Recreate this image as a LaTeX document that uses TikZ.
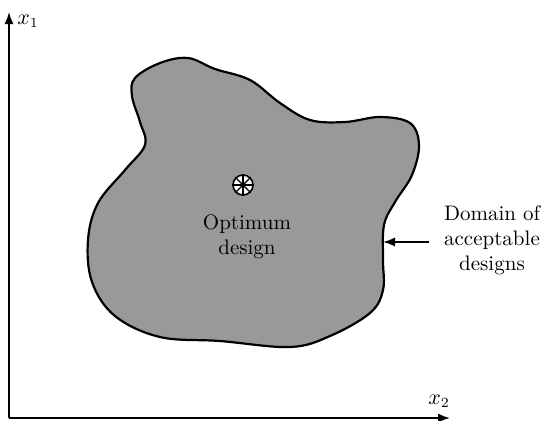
\documentclass[tikz,border=0pt]{standalone}
\usepackage{tikz}
\usetikzlibrary{arrows.meta}

\begin{document}
\begin{tikzpicture}[x=0.5pt, y=-0.5pt, every node/.style={font=\fontsize{10.5}{12.5}\selectfont, inner sep=0pt}, >={Latex[length=6pt, width=4.5pt]}]
	\useasboundingbox (0,0) rectangle (542,420);
	% domain
	\draw[line width=1.1pt, fill=black!40] plot[smooth cycle, tension=0.6] coordinates {
		(135,78) (160,63) (188,58) (215,69) (250,80) (280,103) (310,120) (345,122) (380,117) (410,123) (419,145) (412,175) (395,202) (384,225) (383,260) (383,290) (370,313) (330,336) (290,347) (220,341) (160,337) (115,316) (92,282) (88,240) (98,203) (125,170) (145,145) (140,122) (132,96)};
	% axes
	\coordinate (O) at (9,418);
	\coordinate (Y) at (9,12);
	\coordinate (X) at (450,418);
	\draw[->, line width=0.8pt] (O) -- (Y);
	\draw[->, line width=0.8pt] (O) -- (X);
	\node (x1) at (28,21) {$x_1$};
	\node (x2) at (439,401) {$x_2$};
	% optimum
	\node[draw, circle, fill=white, line width=0.8pt, minimum size=10pt] (opt) at (243,185) {};
	\foreach \a in {0,45,90,135}
		\draw[line width=0.6pt] (opt.\a) -- (opt.\a+180);
	\node[align=center] (optlabel) at (247,237) {Optimum\\design};
	% domain label
	\node[align=center] (domain) at (492,240) {Domain of\\acceptable\\designs};
	\coordinate (edge) at (383,242);
	\draw[<-, line width=0.8pt, shorten >=7.5pt] (edge) -- (edge -| domain.west);
\end{tikzpicture}
\end{document}
